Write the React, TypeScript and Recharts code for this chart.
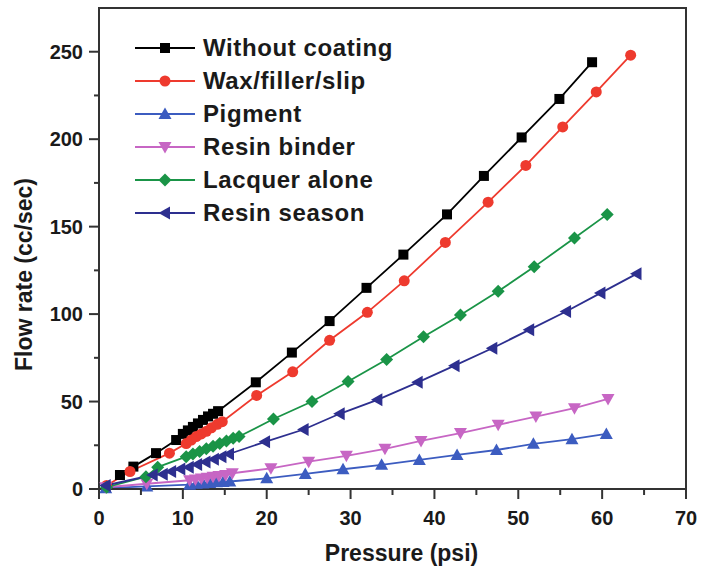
import React from "react"
import {
  LineChart,
  Line,
  XAxis,
  YAxis,
  Legend,
  ReferenceArea,
  Label,
} from "recharts"

const FONT = '"Liberation Sans", Arial, Helvetica, sans-serif'
const INK = "#1a1a1a"
const AXIS = "#333333"

// Pressure (psi) / flow rate (cc/sec)
const P_WITHOUT = [2.5, 4.1, 6.8, 9.2, 10.0, 10.6, 11.2, 11.8, 12.4, 13.0, 13.6, 14.2, 18.7, 23.0, 27.5, 31.9, 36.3, 41.5, 45.9, 50.4, 54.9, 58.8]
const F_WITHOUT = [8, 12.8, 20.5, 28, 31.5, 33.5, 35.5, 37.5, 39.5, 41.5, 43, 44.5, 61, 78, 96, 115, 134, 157, 179, 201, 223, 244]

const P_WAX = [0.9, 3.7, 8.4, 10.4, 11.0, 11.6, 12.2, 12.8, 13.4, 14.1, 14.7, 18.8, 23.1, 27.5, 32.0, 36.4, 41.3, 46.4, 50.9, 55.3, 59.3, 63.4]
const F_WAX = [2, 10, 20.5, 26, 28, 30, 31.5, 33, 35, 37, 38.5, 53.5, 67, 85, 101, 119, 141, 164, 185, 207, 227, 248]

const P_PIGMENT = [0.8, 5.7, 10.8, 11.6, 12.4, 13.2, 14.0, 14.8, 15.6, 20.0, 24.6, 29.1, 33.7, 38.2, 42.7, 47.4, 51.8, 56.4, 60.5]
const F_PIGMENT = [0.5, 1.5, 2.5, 3, 3.2, 3.5, 3.8, 4, 4.3, 6.1, 8.6, 11.3, 13.8, 16.6, 19.5, 22.3, 25.8, 28.5, 31.5]

const P_BINDER = [0.8, 5.7, 10.8, 11.5, 12.2, 12.9, 13.6, 14.3, 15.1, 15.9, 20.5, 25.0, 29.5, 34.1, 38.4, 43.1, 47.6, 52.1, 56.7, 60.7]
const F_BINDER = [1, 3, 5, 5.5, 6, 6.5, 7, 7.5, 8, 9, 11.8, 15.6, 19, 23, 27.5, 32, 36.7, 41.4, 46.2, 51.5]

const P_LACQUER = [0.9, 5.6, 7.0, 10.4, 11.2, 12.0, 12.8, 13.6, 14.4, 15.2, 16.0, 16.7, 20.8, 25.4, 29.7, 34.3, 38.7, 43.1, 47.6, 51.9, 56.7, 60.6]
const F_LACQUER = [1, 7, 12.5, 18.5, 20, 21.5, 23, 24.5, 26, 27.5, 29, 30, 40, 50, 61.5, 74, 87, 99.5, 113, 127, 143.5, 157]

const P_SEASON = [0.8, 6.4, 7.6, 8.6, 9.7, 10.7, 11.7, 12.7, 13.7, 14.6, 15.5, 19.8, 24.4, 28.7, 33.2, 38.0, 42.4, 46.9, 51.3, 55.7, 59.8, 64.1]
const F_SEASON = [2, 8, 8.5, 10, 11.5, 12.5, 14, 15.5, 17, 18.5, 20, 27, 34, 43, 51, 61, 70.5, 80.5, 91, 101.5, 112, 123]

const X_TICKS = [0, 5, 10, 15, 20, 25, 30, 35, 40, 45, 50, 55, 60, 65, 70]
const Y_TICKS = [0, 25, 50, 75, 100, 125, 150, 175, 200, 225, 250]

type Shape = "square" | "circle" | "up" | "down" | "diamond" | "left"

const zip = (p: number[], f: number[]) => p.map((x, i) => ({ p: x, f: f[i] }))

const SERIES: { name: string; color: string; shape: Shape; data: { p: number; f: number }[] }[] = [
  { name: "Without coating", color: "#000000", shape: "square", data: zip(P_WITHOUT, F_WITHOUT) },
  { name: "Wax/filler/slip", color: "#ee3a2e", shape: "circle", data: zip(P_WAX, F_WAX) },
  { name: "Pigment", color: "#3c5cc0", shape: "up", data: zip(P_PIGMENT, F_PIGMENT) },
  { name: "Resin binder", color: "#c766c4", shape: "down", data: zip(P_BINDER, F_BINDER) },
  { name: "Lacquer alone", color: "#1a9447", shape: "diamond", data: zip(P_LACQUER, F_LACQUER) },
  { name: "Resin season", color: "#2d2f8f", shape: "left", data: zip(P_SEASON, F_SEASON) },
]

function Marker({ shape, cx, cy, color }: { shape: Shape; cx: number; cy: number; color: string }) {
  const s = 6.5
  switch (shape) {
    case "square":
      return <rect x={cx - 5} y={cy - 5} width={10} height={10} fill={color} />
    case "circle":
      return <circle cx={cx} cy={cy} r={5.5} fill={color} />
    case "up":
      return <polygon points={`${cx},${cy - s} ${cx + s},${cy + 5} ${cx - s},${cy + 5}`} fill={color} />
    case "down":
      return <polygon points={`${cx - s},${cy - 5} ${cx + s},${cy - 5} ${cx},${cy + s}`} fill={color} />
    case "diamond":
      return <polygon points={`${cx},${cy - s} ${cx + s},${cy} ${cx},${cy + s} ${cx - s},${cy}`} fill={color} />
    default:
      return <polygon points={`${cx - s},${cy} ${cx + 5},${cy - s} ${cx + 5},${cy + s}`} fill={color} />
  }
}

const XTick = (props: any) => {
  const { x, y, payload } = props
  const major = payload.value % 10 === 0
  return (
    <g>
      <line x1={x} x2={x} y1={y} y2={y + (major ? 10 : 6)} stroke={AXIS} strokeWidth={2} />
      {major && (
        <text x={x} y={y + 29} textAnchor="middle" dominantBaseline="central"
          fontFamily={FONT} fontWeight={700} fontSize={20} fill={INK}>
          {payload.value}
        </text>
      )}
    </g>
  )
}

const YTick = (props: any) => {
  const { x, y, payload } = props
  const major = payload.value % 50 === 0
  return (
    <g>
      <line x1={x - (major ? 10 : 5)} x2={x} y1={y} y2={y} stroke={AXIS} strokeWidth={2} />
      {major && (
        <text x={x - 16} y={y} textAnchor="end" dominantBaseline="central"
          fontFamily={FONT} fontWeight={700} fontSize={20} fill={INK}>
          {payload.value}
        </text>
      )}
    </g>
  )
}

const renderLegend = () => (
  <div style={{ fontFamily: FONT, fontWeight: 700, fontSize: 24, letterSpacing: 0.6, color: INK }}>
    {SERIES.map((s) => (
      <div key={s.name} style={{ display: "flex", alignItems: "center", height: 33 }}>
        <svg width={68} height={16} style={{ overflow: "visible", flex: "none" }}>
          <line x1={0} x2={60} y1={8} y2={8} stroke={s.color} strokeWidth={1.8} />
          <Marker shape={s.shape} cx={30} cy={8} color={s.color} />
        </svg>
        <span style={{ whiteSpace: "nowrap" }}>{s.name}</span>
      </div>
    ))}
  </div>
)

export default function App() {
  return (
    <div style={{ position: "absolute", left: 0, top: 0, background: "#fff" }}>
      <LineChart width={700} height={573} margin={{ top: 8, right: 14, bottom: 44, left: 39 }}>
        <XAxis
          type="number"
          dataKey="p"
          domain={[0, 70]}
          ticks={X_TICKS}
          interval={0}
          height={40}
          tickSize={0}
          tickMargin={0}
          tick={<XTick />}
          axisLine={{ stroke: AXIS, strokeWidth: 2 }}
        >
          <Label
            content={(props: any) => {
              const vb = props.viewBox
              return (
                <text x={vb.x + vb.width / 2 + 9} y={vb.y + 64} textAnchor="middle" dominantBaseline="central"
                  fontFamily={FONT} fontWeight={700} fontSize={23} fill={INK}>
                  Pressure (psi)
                </text>
              )
            }}
          />
        </XAxis>
        <YAxis
          type="number"
          domain={[0, 275]}
          ticks={Y_TICKS}
          interval={0}
          width={60}
          tickSize={0}
          tickMargin={0}
          tick={<YTick />}
          axisLine={{ stroke: AXIS, strokeWidth: 2 }}
        >
          <Label
            content={(props: any) => {
              const vb = props.viewBox
              const cy = vb.y + vb.height / 2 + 26
              return (
                <text x={24} y={cy} transform={`rotate(-90, 24, ${cy})`} textAnchor="middle" dominantBaseline="central"
                  fontFamily={FONT} fontWeight={700} fontSize={23} fill={INK}>
                  Flow rate (cc/sec)
                </text>
              )
            }}
          />
        </YAxis>
        <ReferenceArea x1={0} x2={70} y1={0} y2={275} fill="none" stroke={AXIS} strokeWidth={2} />
        {SERIES.map((s) => (
          <Line
            key={s.name}
            data={s.data}
            dataKey="f"
            name={s.name}
            type="linear"
            stroke={s.color}
            strokeWidth={1.8}
            isAnimationActive={false}
            activeDot={false}
            dot={(props: any) => (
              <Marker key={`${s.name}-${props.index}`} shape={s.shape} cx={props.cx} cy={props.cy} color={s.color} />
            )}
          />
        ))}
        <Legend
          layout="vertical"
          align="center"
          verticalAlign="middle"
          wrapperStyle={{ left: 135, top: 31, width: 340 }}
          content={renderLegend}
        />
      </LineChart>
    </div>
  )
}
